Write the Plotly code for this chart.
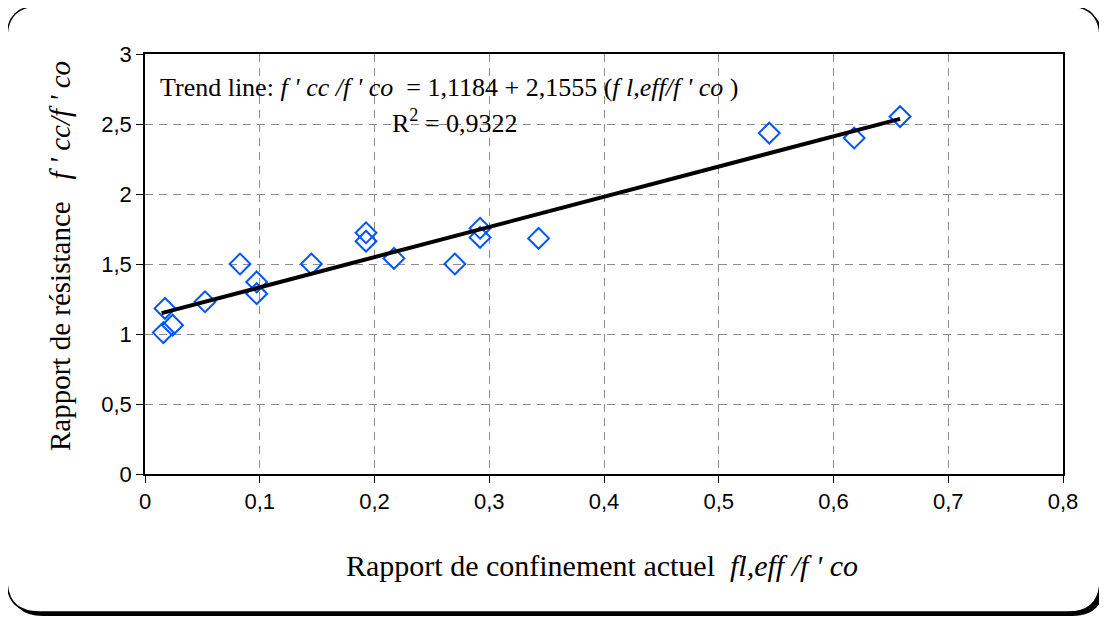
import plotly.graph_objects as go

# data
conf_ratio = [0.016, 0.0174, 0.024, 0.0523, 0.0828, 0.0973, 0.0973, 0.145, 0.1926, 0.1926,
              0.217, 0.270, 0.292, 0.292, 0.343, 0.544, 0.618, 0.658]
strength_ratio = [1.01, 1.183, 1.063, 1.23, 1.50, 1.372, 1.288, 1.50, 1.723, 1.663,
                  1.54, 1.50, 1.755, 1.69, 1.683, 2.435, 2.40, 2.553]
trend_x = [0.0145, 0.658]
trend_y = [1.149, 2.537]
x_ticks = [0, 0.1, 0.2, 0.3, 0.4, 0.5, 0.6, 0.7, 0.8]
y_ticks = [0, 0.5, 1, 1.5, 2, 2.5, 3]

# page body has an 8px margin, so the figure is shrunk and everything shifted
OFF = 8
W, H = 1107 - OFF, 619 - OFF
# plot area in page pixels: x 145..1063, y 54..474
L, T = 145 - OFF, 54 - OFF
R, B = W - (1063 - OFF), H - (474 - OFF)
pw, ph = W - L - R, H - T - B


def px(x):
    return (x - OFF - L) / pw


def py(y):
    return (H - B - (y - OFF)) / ph


def rounded(x0, y0, x1, y1, r):
    # rounded rectangle path, page pixels -> paper coords
    pts = [
        ("M", [(x0 + r, y0)]),
        ("L", [(x1 - r, y0)]), ("Q", [(x1, y0), (x1, y0 + r)]),
        ("L", [(x1, y1 - r)]), ("Q", [(x1, y1), (x1 - r, y1)]),
        ("L", [(x0 + r, y1)]), ("Q", [(x0, y1), (x0, y1 - r)]),
        ("L", [(x0, y0 + r)]), ("Q", [(x0, y0), (x0 + r, y0)]),
    ]
    s = ""
    for cmd, pp in pts:
        s += cmd + " " + " ".join(f"{px(a):.5f},{py(b):.5f}" for a, b in pp) + " "
    return s + "Z"


serif = "Liberation Serif, Times New Roman, serif"
sans = "Liberation Sans, Arial, sans-serif"

fig = go.Figure()
fig.add_trace(go.Scatter(
    x=conf_ratio, y=strength_ratio, mode="markers",
    marker=dict(symbol="diamond-open", size=16, color="#0055ff", line=dict(width=2, color="#0055ff")),
    showlegend=False))
fig.add_trace(go.Scatter(
    x=trend_x, y=trend_y, mode="lines",
    line=dict(color="black", width=4), showlegend=False))

shapes = [
    dict(type="path", xref="paper", yref="paper", layer="below",
         path=rounded(11, 10, 1104, 616, 32), fillcolor="black", line=dict(width=0)),
    dict(type="path", xref="paper", yref="paper", layer="below",
         path=rounded(7, 6, 1100, 612, 32), fillcolor="white", line=dict(color="black", width=1.5)),
]

annotations = [
    dict(xref="paper", yref="paper", x=px(158), y=py(87), xanchor="left", yanchor="middle",
         showarrow=False, font=dict(family=serif, size=26, color="black"),
         text="Trend line: <i>f ' cc /f ' co</i>  = 1,1184 + 2,1555 (<i>f l,eff/f ' co</i> )"),
    dict(xref="paper", yref="paper", x=px(455), y=py(121), xanchor="center", yanchor="middle",
         showarrow=False, font=dict(family=serif, size=26, color="black"),
         text="R<sup>2</sup> = 0,9322"),
    dict(xref="paper", yref="paper", x=px(602), y=py(565), xanchor="center", yanchor="middle",
         showarrow=False, font=dict(family=serif, size=30, color="black"),
         text="Rapport de confinement actuel  <i>fl,eff /f ' co</i>"),
    dict(xref="paper", yref="paper", x=px(60), y=py(256), xanchor="center", yanchor="middle",
         showarrow=False, textangle=-90, font=dict(family=serif, size=29, color="black"),
         text="Rapport de résistance   <i>f ' cc/f ' co</i>"),
]

axis_style = dict(showgrid=True, gridcolor="#8c8c8c", griddash="8px,6px", gridwidth=1,
                  zeroline=False, showline=True, linecolor="black", linewidth=1.5, mirror=True,
                  ticks="outside", ticklen=7, tickcolor="black",
                  tickfont=dict(family=sans, size=22, color="black"))

fig.update_layout(
    width=W, height=H,
    margin=dict(l=L, r=R, t=T, b=B),
    paper_bgcolor="white", plot_bgcolor="rgba(0,0,0,0)",
    separators=",.",
    shapes=shapes, annotations=annotations,
    xaxis=dict(range=[0, 0.8], tickvals=x_ticks, **axis_style),
    yaxis=dict(range=[0, 3], tickvals=y_ticks, **axis_style),
)

fig.write_html("out.html")
